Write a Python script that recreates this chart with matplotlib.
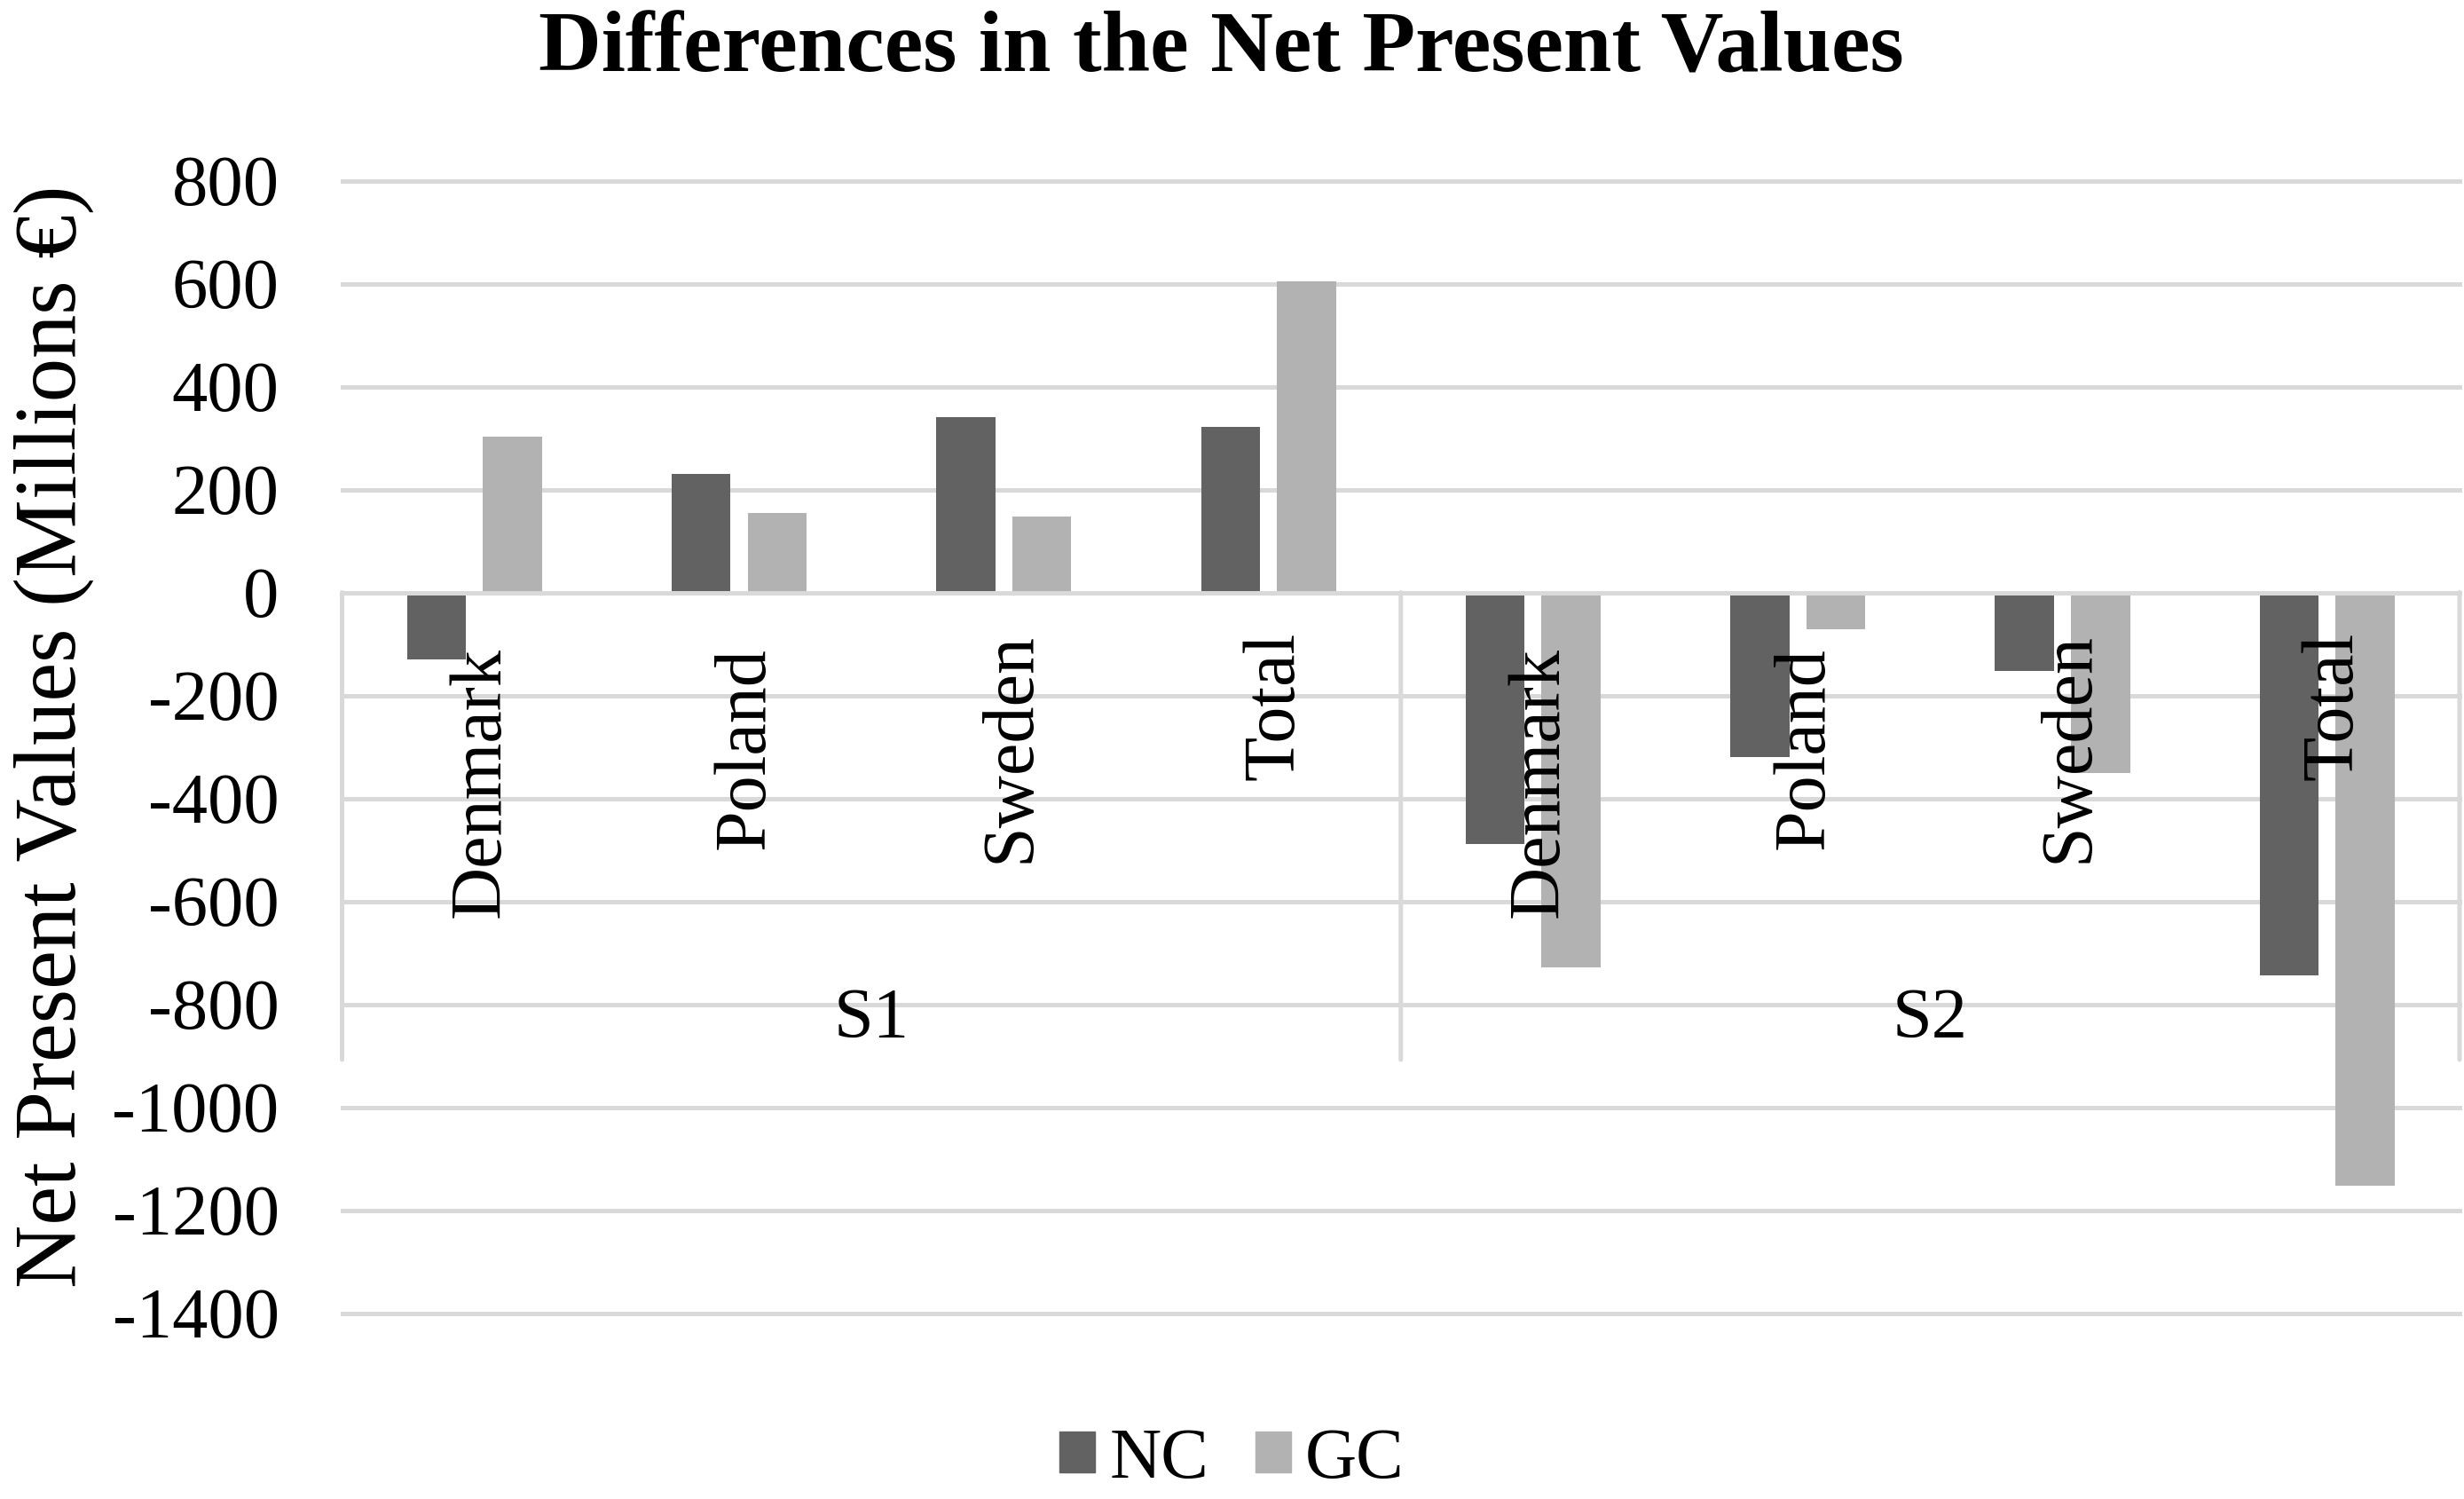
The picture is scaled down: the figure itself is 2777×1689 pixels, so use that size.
import matplotlib
matplotlib.use("Agg")
import matplotlib.pyplot as plt
import matplotlib.transforms as mtransforms
from matplotlib.patches import Patch
import numpy as np

plt.rcParams['font.family'] = ['Liberation Serif', 'DejaVu Serif']

# ---- data ----
groups = ['S1', 'S2']
countries = ['Denmark', 'Poland', 'Sweden', 'Total']
series_names = ['NC', 'GC']
nc_values = [-130, 230, 340, 322, -489, -320, -152, -744]
gc_values = [302, 155, 147, 604, -729, -71, -350, -1152]
yticks = [800, 600, 400, 200, 0, -200, -400, -600, -800, -1000, -1200, -1400]
title = 'Differences in the Net Present Values'
ylabel = 'Net Present Values (Millions €)'

# ---- style ----
NC_COLOR = '#626262'
GC_COLOR = '#b2b2b2'
GRID_COLOR = '#d9d9d9'
GRID_LW = 3.6
BAR_W = 0.223
BAR_OFF = 0.1435
FS = 58
CAT_FS = 59
W, H = 2777, 1689
DPI = 100
# pixel gap between category axis and the end of each rotated label
label_gap_px = [62, 62, 44, 44]

fig = plt.figure(figsize=(W / DPI, H / DPI), dpi=DPI)
ax = fig.add_axes([385.5 / W, 1 - 1479.5 / H, (2772 - 385.5) / W, (1479.5 - 203.5) / H])

labels = [c for g in groups for c in countries]
x = np.arange(len(labels))
ax.bar(x - BAR_OFF, nc_values, BAR_W, color=NC_COLOR, zorder=2, linewidth=0)
ax.bar(x + BAR_OFF, gc_values, BAR_W, color=GC_COLOR, zorder=2, linewidth=0)

ax.set_xlim(-0.5, len(labels) - 0.5)
ax.set_ylim(min(yticks), max(yticks))

# gridlines
for yv in yticks:
    if yv == 0:
        continue
    ax.axhline(yv, color=GRID_COLOR, lw=GRID_LW, zorder=1, clip_on=False)
# category axis line (on top of bars)
ax.axhline(0, color=GRID_COLOR, lw=GRID_LW, zorder=3, clip_on=False)

# group separators of the multi-level axis
n_per = len(countries)
sep_x = [-0.5 + k * n_per for k in range(len(groups) + 1)]
sep_len_px = 1194 - 667.5
for sx in sep_x:
    ax.annotate('', xy=(sx, 0), xycoords='data',
                xytext=(0, -sep_len_px * 72 / DPI), textcoords='offset points',
                arrowprops=dict(arrowstyle='-', color=GRID_COLOR, lw=GRID_LW,
                                shrinkA=0, shrinkB=0), zorder=3)

# category labels (rotated)
for i, (xi, lab) in enumerate(zip(x, labels)):
    gap = label_gap_px[i % n_per]
    off = mtransforms.ScaledTranslation(28 / DPI, -gap / DPI, fig.dpi_scale_trans)
    ax.text(xi, 0, lab, rotation=90, rotation_mode='anchor', ha='right', va='baseline',
            fontsize=CAT_FS, transform=ax.transData + off, zorder=5)

# group labels
grp_off = mtransforms.ScaledTranslation(0, -(1169 - 667.5) / DPI, fig.dpi_scale_trans)
for k, g in enumerate(groups):
    gx = k * n_per + (n_per - 1) / 2
    ax.text(gx, 0, g, ha='center', va='baseline', fontsize=FS,
            transform=ax.transData + grp_off, zorder=5)

# y axis
ax.set_xticks([])
ax.set_yticks(yticks)
ax.set_yticklabels([str(v) for v in yticks], fontsize=FS)
ax.tick_params(axis='y', length=0, pad=51)
for s in ax.spines.values():
    s.set_visible(False)

fig.text(60.5 / W, 1 - 830 / H, ylabel, rotation=90, ha='center', va='center', fontsize=71)
fig.text(1376 / W, 1 - 80 / H, title, ha='center', va='baseline', fontsize=70.5, fontweight='bold')

handles = [Patch(color=NC_COLOR), Patch(color=GC_COLOR)]
fig.legend(handles, series_names, loc='center', bbox_to_anchor=(0.5, 1 - 1645 / H), ncol=2,
           frameon=False, fontsize=FS, handlelength=0.5, handleheight=0.5,
           handletextpad=0.2, columnspacing=0.65, borderpad=0, borderaxespad=0)

fig.savefig('out.png', dpi=DPI, facecolor='white')
